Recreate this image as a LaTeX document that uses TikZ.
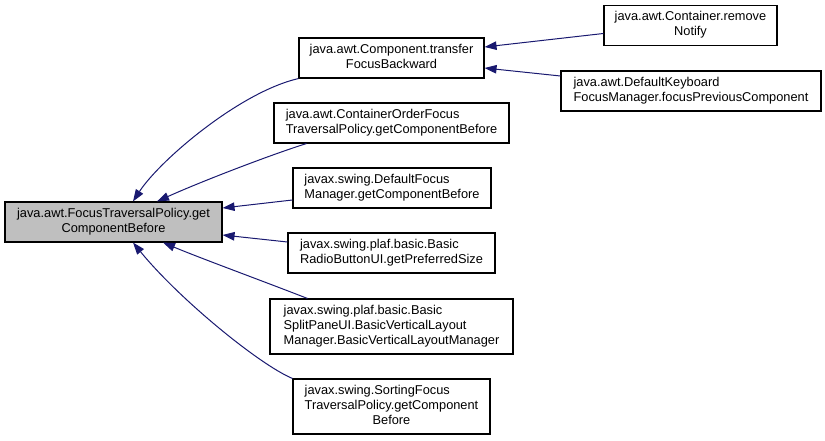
\documentclass[tikz,border=0pt]{standalone}
\usepackage{fontspec}
\setmainfont{Liberation Sans}
\usetikzlibrary{arrows.meta}
\definecolor{edgeblue}{HTML}{191970}
\definecolor{mainfill}{HTML}{BFBFBF}
\newcommand\lbl[2]{\begin{tabular}{@{}l@{}}#1\\\multicolumn{1}{@{}c@{}}{#2}\end{tabular}}
\tikzset{
  box/.style={draw=black, line width=1.1bp, fill=white, inner sep=0pt, minimum height=40bp,
    font=\fontsize{12.8bp}{15bp}\selectfont},
  mainbox/.style={box, fill=mainfill},
  arr/.style={draw=edgeblue, line width=1bp, -{Triangle[length=12bp,width=8.5bp]}},
}
\begin{document}
\begin{tikzpicture}[x=1bp,y=-1bp]
\useasboundingbox (0,0) rectangle (825,441);
\node[mainbox, minimum width=217bp] (main) at (113.5,222) {\lbl{java.awt.FocusTraversalPolicy.get}{ComponentBefore}};
\node[box, minimum width=185bp] (tfb) at (391.5,58) {\lbl{java.awt.Component.transfer}{FocusBackward}};
\node[box, minimum width=235bp] (cof) at (391.5,123) {\lbl{java.awt.ContainerOrderFocus}{TraversalPolicy.getComponentBefore}};
\node[box, minimum width=198bp] (dfm) at (392,188) {\lbl{javax.swing.DefaultFocus}{Manager.getComponentBefore}};
\node[box, minimum width=207bp] (radio) at (391.5,253) {\lbl{javax.swing.plaf.basic.Basic}{RadioButtonUI.getPreferredSize}};
\node[box, minimum width=243bp, minimum height=55bp] (split) at (391.5,326.5) {\lbl{javax.swing.plaf.basic.Basic\\SplitPaneUI.BasicVerticalLayout}{Manager.BasicVerticalLayoutManager}};
\node[box, minimum width=197bp, minimum height=55bp] (sort) at (391.5,406.5) {\lbl{javax.swing.SortingFocus\\TraversalPolicy.getComponent}{Before}};
\node[box, minimum width=173bp] (remove) at (690.5,25.5) {\lbl{java.awt.Container.remove}{Notify}};
\node[box, minimum width=260bp] (dkfm) at (691,91) {\lbl{java.awt.DefaultKeyboard}{FocusManager.focusPreviousComponent}};

\draw[arr] (tfb.south west) .. controls (240,92) and (160,160) .. ([xshift=19.5bp]main.north);
\draw[arr] ([xshift=33bp]cof.south west) .. controls (270,155) and (200,182) .. ([xshift=43.5bp]main.north);
\draw[arr] ([yshift=-12bp]dfm.west) -- ([yshift=14bp]main.east);
\draw[arr] ([yshift=11bp]radio.west) -- ([yshift=-13bp]main.east);
\draw[arr] ([xshift=38bp]split.north west) .. controls (260,280) and (200,258) .. ([xshift=49.5bp]main.south);
\draw[arr] (sort.north west) .. controls (260,365) and (180,300) .. ([xshift=19.5bp]main.south);
\draw[arr] ([yshift=-8bp]remove.west) -- ([yshift=11bp]tfb.east);
\draw[arr] ([yshift=15bp]dkfm.west) -- ([yshift=-10bp]tfb.east);
\end{tikzpicture}
\end{document}
